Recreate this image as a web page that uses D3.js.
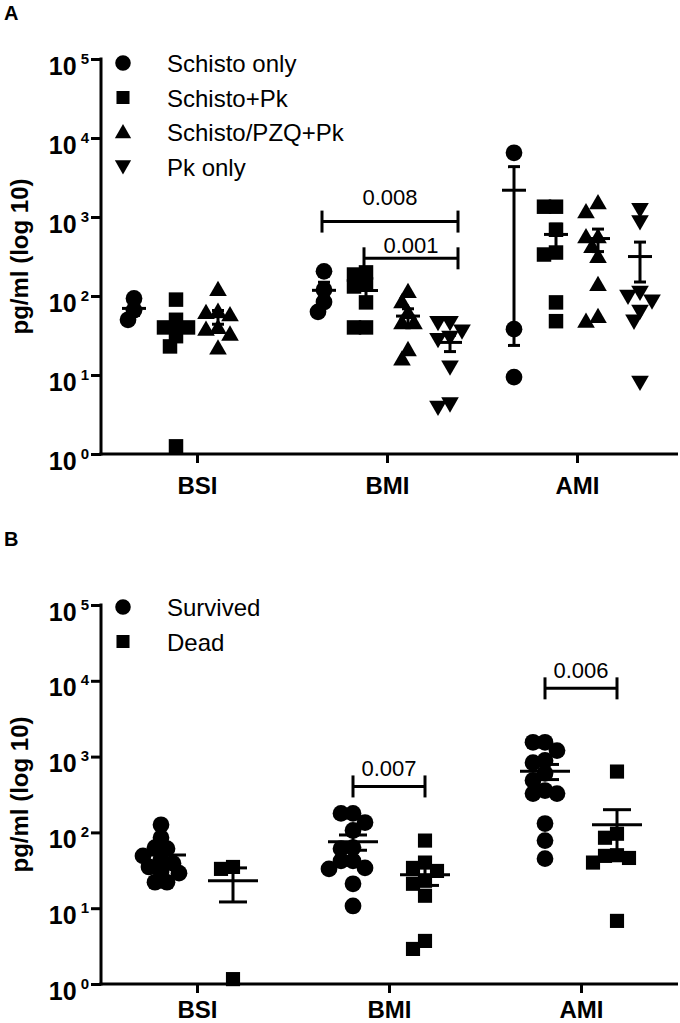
<!DOCTYPE html>
<html>
<head>
<meta charset="utf-8">
<script src="https://cdn.jsdelivr.net/npm/d3@7"></script>
<style>
  html, body { margin: 0; padding: 0; background: #fff; }
  svg { display: block; font-family: "Liberation Sans", Arial, Helvetica, sans-serif; }
</style>
</head>
<body>
<svg id="chart" width="680" height="1023"></svg>
<script>
// ---------------- DATA ----------------
const categories = ["BSI", "BMI", "AMI"];
const yTickValues = [1, 10, 100, 1000, 10000, 100000];

// Panel A groups
const groupsA = ["Schisto only", "Schisto+Pk", "Schisto/PZQ+Pk", "Pk only"];
// values per category (BSI, BMI, AMI), pg/ml
const schistoOnly = [[93, 66, 50], [205, 120, 84, 63], [6500, 38, 9.4]];
const schistoPk = [[90, 50, 40, 40, 31, 23, 1.25], [199, 187, 140, 132, 83, 40, 40], [1350, 1350, 690, 355, 335, 83, 48]];
const schistoPzqPk = [[121, 64, 62, 58, 40, 38, 33, 22], [114, 85, 62, 46, 46, 21, 16], [1520, 1170, 565, 565, 425, 317, 140, 55, 48]];
const pkOnly = [[], [46, 46, 36, 30, 28, 12.6, 4.3, 3.9], [1240, 870, 111, 99, 86, 64, 48, 8.1]];
const pLabelsA = ["0.008", "0.001"];
const pCatsA = ["BMI", "BMI"];
const pFromA = ["Schisto only", "Schisto+Pk"];
const pToA = ["Pk only", "Pk only"];
const pLevelA = [875, 300];

// Panel B groups
const groupsB = ["Survived", "Dead"];
const survived = [[126, 85, 63, 61, 49, 45, 39, 35, 30, 29, 22, 22], [178, 178, 135, 106, 63, 61, 42, 42, 34, 33, 21, 10.7], [1545, 1545, 1200, 890, 830, 600, 485, 357, 325, 325, 131, 78, 45]];
const dead = [[35, 33, 1.16], [78, 40, 34, 31, 23, 21, 14.6, 3.7, 2.9], [635, 96, 85, 50, 49, 46, 40, 6.8]];
const pLabelsB = ["0.007", "0.006"];
const pCatsB = ["BMI", "AMI"];
const pFromB = ["Survived", "Survived"];
const pToB = ["Dead", "Dead"];
const pLevelB = [404, 7950];

// ---------------- DRAW ----------------
const svg = d3.select("#chart");
const FONT = '"Liberation Sans", Arial, Helvetica, sans-serif';

function symbolPath(kind, size) {
  if (kind === "circle") return d3.symbol(d3.symbolCircle, size)();
  if (kind === "square") return d3.symbol(d3.symbolSquare, size)();
  return d3.symbol(d3.symbolTriangle, size)();
}
function symbolTransform(kind, x, y) {
  let t = `translate(${x},${y})`;
  if (kind === "triangle") t += " translate(0,1.5)";
  if (kind === "invtriangle") t += " rotate(180) translate(0,1.5)";
  return t;
}

function drawPanel(cfg) {
  const g = svg.append("g");
  const y = d3.scaleLog().domain([1, 100000]).range([cfg.y0, cfg.y5]);
  const x = d3.scalePoint().domain(categories).range(cfg.catRange);
  const gx = d3.scalePoint().domain(cfg.groups).range(cfg.groupRange);

  // Axes
  const yAxis = g.append("g").attr("transform", `translate(${cfg.axisX},0)`)
    .call(d3.axisLeft(y).tickValues(yTickValues).tickSize(10).tickSizeOuter(0).tickFormat(""));
  yAxis.select(".domain").attr("stroke", "#000").attr("stroke-width", 3)
    .attr("d", `M0,${cfg.y0 + 1.5}V${cfg.y5 - 1.5}`);
  yAxis.selectAll(".tick line").attr("stroke", "#000").attr("stroke-width", 3);
  yAxis.selectAll(".tick").each(function (d) {
    const t = d3.select(this).append("text")
      .attr("x", -12).attr("y", 15)
      .attr("text-anchor", "end").attr("fill", "#000")
      .style("font-family", FONT);
    t.append("tspan").text("10").attr("font-size", 25).attr("font-weight", "bold");
    t.append("tspan").text(String(Math.round(Math.log10(d))))
      .attr("font-size", 15).attr("font-weight", "bold").attr("dx", 4).attr("dy", -11);
  });

  const xAxis = g.append("g").attr("transform", `translate(0,${cfg.y0})`)
    .call(d3.axisBottom(x).tickSize(9).tickSizeOuter(0).tickFormat(""));
  xAxis.select(".domain").attr("stroke", "#000").attr("stroke-width", 3)
    .attr("d", `M${cfg.axisX - 1.5},0H${cfg.axisXEnd}`);
  xAxis.selectAll(".tick line").attr("stroke", "#000").attr("stroke-width", 3);
  xAxis.selectAll(".tick").append("text")
    .attr("y", cfg.xLabelDy).attr("text-anchor", "middle").attr("fill", "#000")
    .attr("font-size", 24).attr("font-weight", "bold").style("font-family", FONT)
    .text(d => d);

  // Y axis title
  g.append("text")
    .attr("transform", `translate(${cfg.titleX},${(cfg.y0 + cfg.y5) / 2}) rotate(-90)`)
    .attr("text-anchor", "middle").attr("font-size", 24).attr("font-weight", "bold")
    .style("font-family", FONT).text("pg/ml (log 10)");

  // Panel letter
  g.append("text").attr("x", 4).attr("y", cfg.letterY)
    .attr("font-size", 20).attr("font-weight", "bold").style("font-family", FONT)
    .text(cfg.letter);

  // Data points (spread like a column scatter), mean ± SEM
  cfg.groups.forEach((grp, gi) => {
    const series = cfg.series[gi];
    const kind = cfg.kinds[gi];
    categories.forEach((cat, ci) => {
      const vals = series[ci];
      if (!vals.length) return;
      const cx = x(cat) + gx(grp);
      const sorted = vals.slice().sort((a, b) => b - a);
      const placed = [];
      const step = cfg.step, minD = cfg.minDist;
      sorted.forEach(v => {
        const py = y(v);
        const cands = [0];
        for (let k = 1; k < 8; k++) { cands.push(-k * step, k * step); }
        let chosen = cands[cands.length - 1];
        for (const off of cands) {
          const ok = placed.every(p => Math.hypot(p.x - (cx + off), p.y - py) >= minD);
          if (ok) { chosen = off; break; }
        }
        placed.push({ x: cx + chosen, y: py });
      });
      g.append("g").selectAll("path").data(placed).join("path")
        .attr("d", symbolPath(kind, cfg.sizes[gi]))
        .attr("transform", p => symbolTransform(kind, p.x, p.y))
        .attr("fill", "#000");

      const mean = d3.mean(vals);
      const sem = vals.length > 1 ? d3.deviation(vals) / Math.sqrt(vals.length) : 0;
      const lo = Math.max(mean - sem, 1.0001), hi = mean + sem;
      const eb = g.append("g").attr("stroke", "#000").attr("stroke-width", 3).attr("fill", "none");
      eb.append("line").attr("x1", cx).attr("x2", cx).attr("y1", y(lo)).attr("y2", y(hi));
      eb.append("line").attr("x1", cx - cfg.meanW / 2).attr("x2", cx + cfg.meanW / 2)
        .attr("y1", y(mean)).attr("y2", y(mean));
      [lo, hi].forEach(v => eb.append("line")
        .attr("x1", cx - cfg.capW / 2).attr("x2", cx + cfg.capW / 2)
        .attr("y1", y(v)).attr("y2", y(v)));
    });
  });

  // P-value brackets
  cfg.pLabels.forEach((lab, i) => {
    const x1 = x(cfg.pCats[i]) + gx(cfg.pFrom[i]) + cfg.bracketShift[0];
    const x2 = x(cfg.pCats[i]) + gx(cfg.pTo[i]) + cfg.bracketShift[1];
    const yy = y(cfg.pLevel[i]);
    const b = g.append("g").attr("stroke", "#000").attr("stroke-width", 3);
    b.append("line").attr("x1", x1).attr("x2", x2).attr("y1", yy).attr("y2", yy);
    [x1, x2].forEach(xx => b.append("line").attr("x1", xx).attr("x2", xx)
      .attr("y1", yy - 11).attr("y2", yy + 11));
    g.append("text").attr("x", (x1 + x2) / 2).attr("y", yy - cfg.pTextOff[i])
      .attr("text-anchor", "middle").attr("font-size", 22).style("font-family", FONT)
      .text(lab);
  });

  // Legend
  cfg.groups.forEach((grp, gi) => {
    const ly = cfg.legendY + gi * 34.5;
    g.append("path").attr("d", symbolPath(cfg.kinds[gi], cfg.legendSizes[gi]))
      .attr("transform", symbolTransform(cfg.kinds[gi], 123, ly)).attr("fill", "#000");
    g.append("text").attr("x", 167).attr("y", ly + 9).attr("font-size", 24)
      .style("font-family", FONT).text(grp);
  });
}

drawPanel({
  letter: "A", letterY: 20,
  y0: 454, y5: 59, axisX: 101, axisXEnd: 678, titleX: 28, xLabelDy: 40,
  catRange: [197, 577], groupRange: [-63, 63],
  groups: groupsA, series: [schistoOnly, schistoPk, schistoPzqPk, pkOnly],
  kinds: ["circle", "square", "triangle", "invtriangle"],
  sizes: [220, 210, 135, 135], legendSizes: [190, 170, 115, 115],
  step: 6, minDist: 11, meanW: 24, capW: 12,
  pLabels: pLabelsA, pCats: pCatsA, pFrom: pFromA, pTo: pToA, pLevel: pLevelA,
  bracketShift: [-2, 8], pTextOff: [17, 5],
  legendY: 63
});

drawPanel({
  letter: "B", letterY: 546,
  y0: 984, y5: 605, axisX: 101, axisXEnd: 678, titleX: 28, xLabelDy: 34,
  catRange: [197, 581], groupRange: [-36, 36],
  groups: groupsB, series: [survived, dead],
  kinds: ["circle", "square"],
  sizes: [220, 200], legendSizes: [190, 170],
  step: 6, minDist: 11, meanW: 50, capW: 28,
  pLabels: pLabelsB, pCats: pCatsB, pFrom: pFromB, pTo: pToB, pLevel: pLevelB,
  bracketShift: [0, 0], pTextOff: [10, 10],
  legendY: 607
});
</script>
</body>
</html>
